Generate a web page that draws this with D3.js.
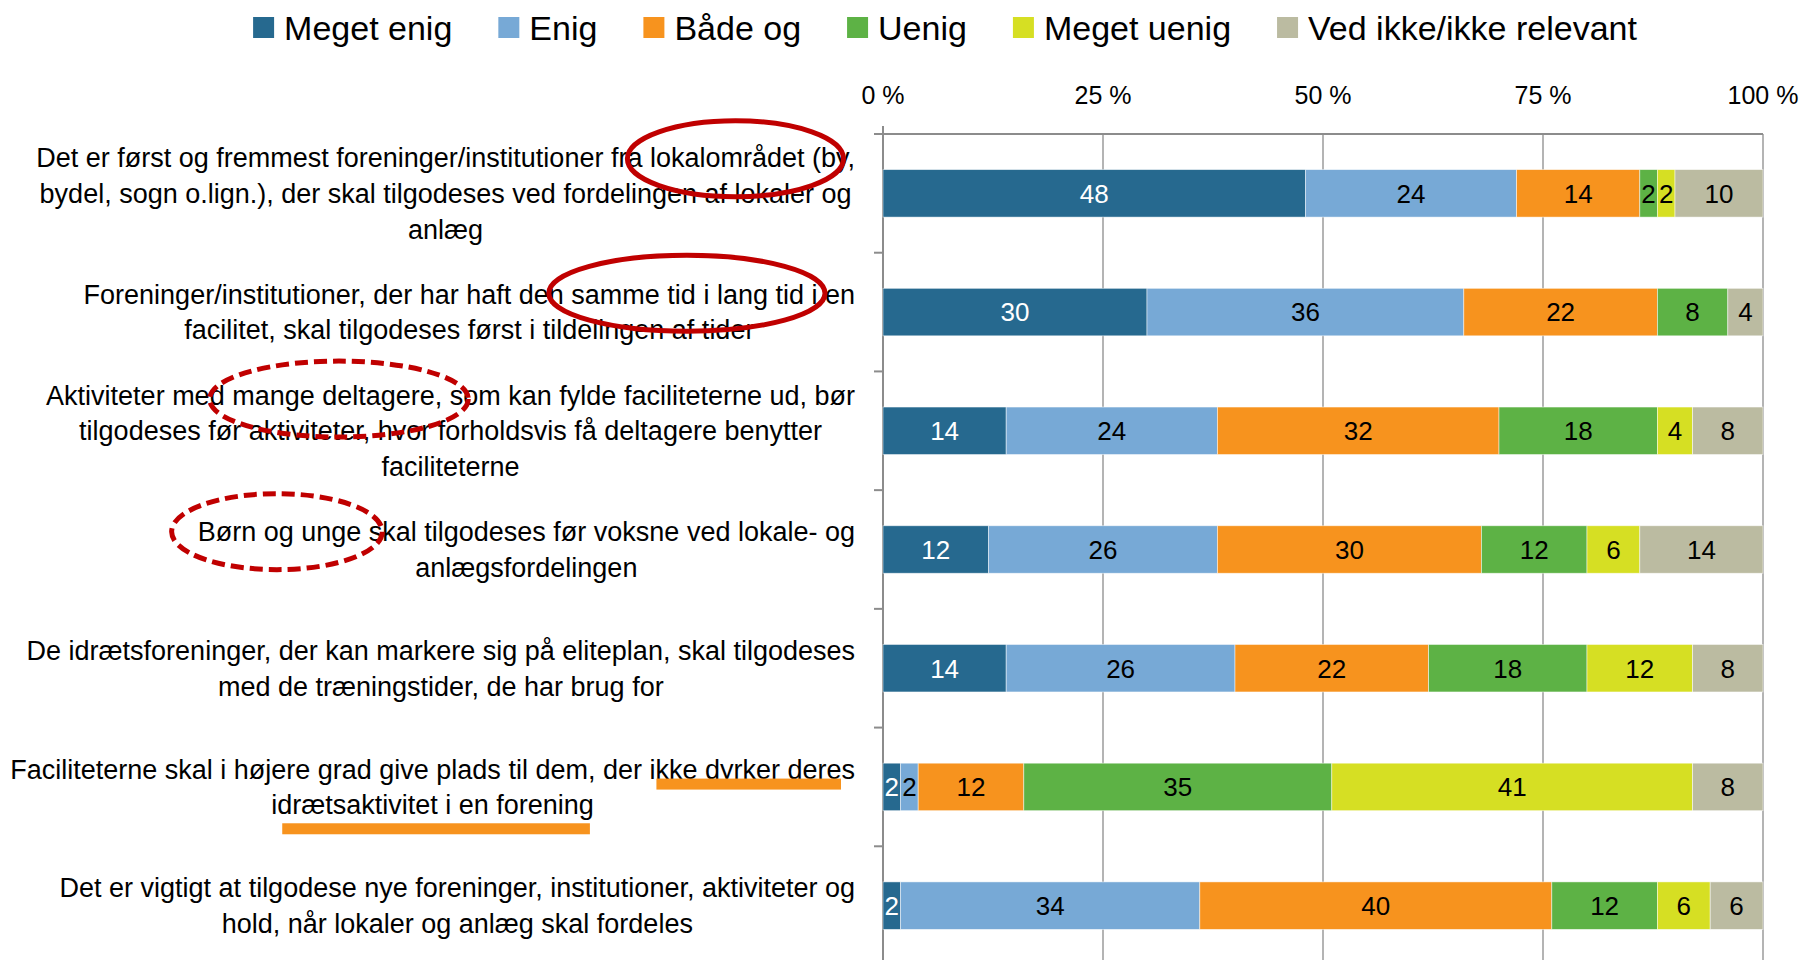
<html>
  <head>
    <meta charset="utf-8">
    <script src="https://d3js.org/d3.v7.min.js"></script>
  <style>
    body { margin: 0; background: #fff; }
    text { font-family: "Liberation Sans", Arial, sans-serif; fill: #000; }
    .gridlines line { stroke: #8c8c8c; stroke-width: 1.3; }
    .gridlines .domain { stroke: none; }
  </style>
  </head>

  <body>
    <svg id="mainSVG" width="1804" height="960"></svg>
  </body>

  <script>
      // Data (percent per answer)
      const seriesNames = ["Meget enig", "Enig", "Både og", "Uenig", "Meget uenig", "Ved ikke/ikke relevant"];
      const categoryLines = [
        ["Det er først og fremmest foreninger/institutioner fra lokalområdet (by,",
         "bydel, sogn o.lign.), der skal tilgodeses ved fordelingen af lokaler og",
         "anlæg"],
        ["Foreninger/institutioner, der har haft den samme tid i lang tid i en",
         "facilitet, skal tilgodeses først i tildelingen af tider"],
        ["Aktiviteter med mange deltagere, som kan fylde faciliteterne ud, bør",
         "tilgodeses før aktiviteter, hvor forholdsvis få deltagere benytter",
         "faciliteterne"],
        ["Børn og unge skal tilgodeses før voksne ved lokale- og",
         "anlægsfordelingen"],
        ["De idrætsforeninger, der kan markere sig på eliteplan, skal tilgodeses",
         "med de træningstider, de har brug for"],
        ["Faciliteterne skal i højere grad give plads til dem, der ikke dyrker deres",
         "idrætsaktivitet i en forening"],
        ["Det er vigtigt at tilgodese nye foreninger, institutioner, aktiviteter og",
         "hold, når lokaler og anlæg skal fordeles"]
      ];
      const megetEnig  = [48, 30, 14, 12, 14, 2, 2];
      const enig       = [24, 36, 24, 26, 26, 2, 34];
      const baadeOg    = [14, 22, 32, 30, 22, 12, 40];
      const uenig      = [2, 8, 18, 12, 18, 35, 12];
      const megetUenig = [2, 0, 4, 6, 12, 41, 6];
      const vedIkke    = [10, 4, 8, 14, 8, 8, 6];
      const tickValues = [0, 25, 50, 75, 100];

      const colors = ["#26698f", "#77a9d6", "#f7931e", "#5db245", "#d6df23", "#bbbba1"];

      // hand-drawn marks on top of the labels
      const ellipses = [
        { cat: 0, line: 0, sub: "a lokalområdet (by", padL: 0, padR: -4, dy: 1, dashed: false },
        { cat: 1, line: 0, sub: "n samme tid i lang tid i ", padL: 0, padR: 0, dy: -1, dashed: false },
        { cat: 2, line: 0, sub: "d mange deltagere, s", padL: 0, padR: 5, dy: 4, dashed: true },
        { cat: 3, line: 0, sub: "Børn og unge s", padL: 26, padR: 0, dy: 0, dashed: true }
      ];
      const underlines = [
        { cat: 5, line: 0, sub: "ikke dyrker deres", padL: -7, padR: -14, dy: 15 },
        { cat: 5, line: 1, sub: "idrætsaktivitet i en forening", padL: -11, padR: -4, dy: 24 }
      ];

      const rows = categoryLines.map((c, i) => ({
        idx: i,
        [seriesNames[0]]: megetEnig[i],
        [seriesNames[1]]: enig[i],
        [seriesNames[2]]: baadeOg[i],
        [seriesNames[3]]: uenig[i],
        [seriesNames[4]]: megetUenig[i],
        [seriesNames[5]]: vedIkke[i]
      }));

      const svg = d3.select("#mainSVG");

      const plotLeft = 883, plotRight = 1763, plotTop = 134, plotBottom = 965;
      const labelRight = 855;
      const lineHeight = 35.7;

      const xScale = d3.scaleLinear().domain([0, 100]).range([plotLeft, plotRight]);
      const yScale = d3.scaleBand()
        .domain(rows.map(d => d.idx))
        .range([plotTop, plotBottom])
        .paddingInner(0.6)
        .paddingOuter(0.3);
      const step = yScale.step();

      const colorScale = d3.scaleOrdinal().domain(seriesNames).range(colors);

      // vertical gridlines
      svg.append("g")
        .attr("class", "gridlines")
        .selectAll("line")
        .data(tickValues)
        .join("line")
        .attr("x1", d => xScale(d)).attr("x2", d => xScale(d))
        .attr("y1", plotTop).attr("y2", plotBottom);

      // top value axis labels
      svg.append("g")
        .selectAll("text")
        .data(tickValues)
        .join("text")
        .attr("x", d => xScale(d))
        .attr("y", 95)
        .attr("dy", "0.35em")
        .attr("text-anchor", "middle")
        .style("font-size", "25px")
        .text(d => d + " %");

      // top line + category axis with ticks at band edges
      svg.append("line")
        .attr("x1", plotLeft - 9).attr("x2", plotRight)
        .attr("y1", plotTop).attr("y2", plotTop)
        .attr("stroke", "#8c8c8c").attr("stroke-width", 2);
      svg.append("line")
        .attr("x1", plotLeft).attr("x2", plotLeft)
        .attr("y1", plotTop - 8).attr("y2", plotBottom)
        .attr("stroke", "#8c8c8c").attr("stroke-width", 2);
      svg.append("g")
        .selectAll("line")
        .data(d3.range(rows.length + 1))
        .join("line")
        .attr("x1", plotLeft - 9).attr("x2", plotLeft)
        .attr("y1", i => plotTop + i * step).attr("y2", i => plotTop + i * step)
        .attr("stroke", "#8c8c8c").attr("stroke-width", 2);

      // stacked bars
      const stack = d3.stack().keys(seriesNames);
      const series = stack(rows);

      const layers = svg.append("g")
        .selectAll("g.layer")
        .data(series)
        .join("g")
        .attr("class", "layer")
        .attr("fill", d => colorScale(d.key));

      layers.selectAll("rect")
        .data(d => d.filter(p => p[1] > p[0]))
        .join("rect")
        .attr("x", d => xScale(d[0]))
        .attr("y", d => yScale(d.data.idx))
        .attr("width", d => xScale(d[1]) - xScale(d[0]))
        .attr("height", yScale.bandwidth())
        .attr("stroke", "#fff")
        .attr("stroke-width", 0.8)
        .attr("stroke-opacity", 0.6);

      layers.selectAll("text")
        .data(d => d.filter(p => p[1] > p[0]).map(p => Object.assign(p, { key: d.key })))
        .join("text")
        .attr("x", d => (xScale(d[0]) + xScale(d[1])) / 2)
        .attr("y", d => yScale(d.data.idx) + yScale.bandwidth() / 2)
        .attr("dy", "0.36em")
        .attr("text-anchor", "middle")
        .style("font-size", "26px")
        .style("fill", d => d.key === seriesNames[0] ? "#fff" : "#000")
        .text(d => d[1] - d[0]);

      // category labels: block right-aligned, lines centred within the block
      const labelGroup = svg.append("g");
      const lineNodes = [];
      categoryLines.forEach((lines, i) => {
        const g = labelGroup.append("g");
        const yc = yScale(i) + yScale.bandwidth() / 2;
        const texts = g.selectAll("text")
          .data(lines)
          .join("text")
          .attr("y", (d, j) => yc + (j - (lines.length - 1) / 2) * lineHeight)
          .attr("dy", "0.35em")
          .attr("text-anchor", "middle")
          .style("font-size", "27px")
          .text(d => d);
        const widest = d3.max(texts.nodes(), n => n.getComputedTextLength());
        texts.attr("x", labelRight - widest / 2);
        lineNodes.push(texts.nodes());
      });

      function subRange(a) {
        const node = lineNodes[a.cat][a.line];
        const full = categoryLines[a.cat][a.line];
        const start = full.indexOf(a.sub);
        const x0 = node.getStartPositionOfChar(start).x;
        const x1 = node.getEndPositionOfChar(start + a.sub.length - 1).x;
        const y = +node.getAttribute("y");
        return { x0: x0 - a.padL, x1: x1 + a.padR, y: y + a.dy };
      }

      // orange underlines
      svg.append("g")
        .selectAll("rect")
        .data(underlines)
        .join("rect")
        .each(function(a) {
          const r = subRange(a);
          d3.select(this)
            .attr("x", r.x0).attr("width", r.x1 - r.x0)
            .attr("y", r.y - 5.5).attr("height", 11)
            .attr("fill", "#f7931e");
        });

      // red ellipses
      svg.append("g")
        .selectAll("ellipse")
        .data(ellipses)
        .join("ellipse")
        .each(function(a) {
          const r = subRange(a);
          d3.select(this)
            .attr("cx", (r.x0 + r.x1) / 2)
            .attr("cy", r.y)
            .attr("rx", (r.x1 - r.x0) / 2)
            .attr("ry", 38)
            .attr("fill", "none")
            .attr("stroke", "#c00000")
            .attr("stroke-width", 5)
            .attr("stroke-dasharray", a.dashed ? "13,6" : null);
        });

      // legend, laid out left to right and centred
      const legendGroup = svg.append("g");
      const items = legendGroup.selectAll("g")
        .data(seriesNames)
        .join("g");
      items.append("rect")
        .attr("y", 17)
        .attr("width", 21)
        .attr("height", 21)
        .attr("fill", d => colorScale(d));
      items.append("text")
        .attr("x", 31)
        .attr("y", 28)
        .attr("dy", "0.35em")
        .style("font-size", "34px")
        .text(d => d);
      let cursor = 0;
      items.each(function() {
        const w = d3.select(this).select("text").node().getComputedTextLength();
        d3.select(this).attr("transform", `translate(${cursor},0)`);
        cursor += 31 + w + 46;
      });
      const legendWidth = cursor - 46;
      legendGroup.attr("transform", `translate(${945 - legendWidth / 2},0)`);
  </script>
</html>
